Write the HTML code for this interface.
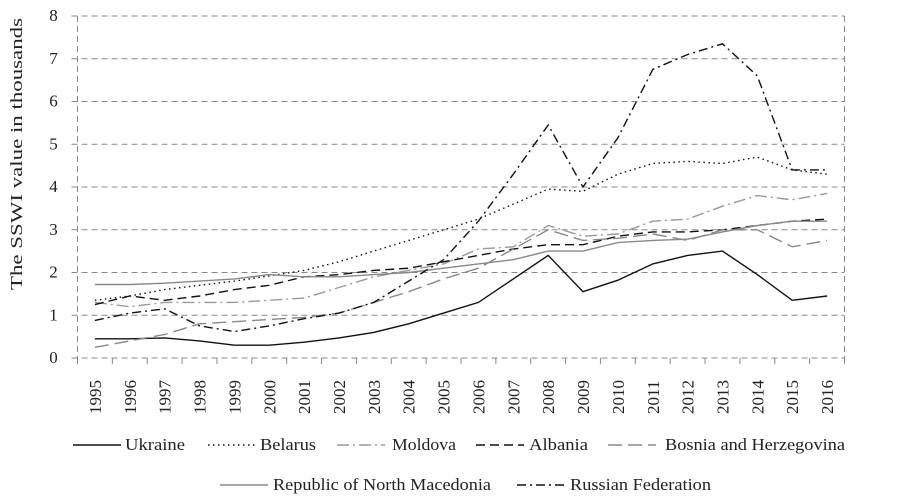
<!DOCTYPE html>
<html><head><meta charset="utf-8"><style>
html,body{margin:0;padding:0;background:#fff;}
svg{display:block;font-family:"Liberation Serif",serif;}
</style></head><body>
<svg id="s" width="900" height="503" xmlns="http://www.w3.org/2000/svg">
<g id="grid" stroke="#888" stroke-width="1" stroke-dasharray="6,4" fill="none"></g>
<g id="lbl" font-size="16" fill="#222"></g>
<text transform="translate(22,154) rotate(-90)" text-anchor="middle" font-size="17" fill="#222" textLength="272" lengthAdjust="spacingAndGlyphs">The SSWI value in thousands</text>
<g id="series" fill="none"></g>
<g id="leg" font-size="17" fill="#222"></g>
</svg>
<script>
const NS="http://www.w3.org/2000/svg";
function el(p,t,a,txt){const e=document.createElementNS(NS,t);for(const k in a)e.setAttribute(k,a[k]);if(txt!=null)e.textContent=txt;p.appendChild(e);return e;}
const L=77.5,R=844.5,T=16,B=358,step=(R-L)/22;
const X=i=>L+step*(i+0.5), Y=v=>B-v*(B-T)/8;
const g=document.getElementById('grid'),lb=document.getElementById('lbl');
for(let v=0;v<=8;v++){el(g,'line',{x1:L-6,x2:R,y1:Y(v),y2:Y(v)});el(lb,'text',{x:L-24,y:Y(v)+5,'text-anchor':'middle','font-size':'17'},v);}
el(g,'line',{x1:L,x2:L,y1:T,y2:B+6});el(g,'line',{x1:R,x2:R,y1:T,y2:B+6});
for(let i=0;i<=22;i++)el(g,'line',{x1:L+step*i,x2:L+step*i,y1:B,y2:B+6});
for(let i=0;i<22;i++)el(lb,'text',{transform:`translate(${X(i)+6},${B+56}) rotate(-90)`,'font-size':'17'},1995+i);
const S=[
["Ukraine","#111","none",1.4,[0.45,0.45,0.47,0.4,0.3,0.3,0.37,0.47,0.6,0.8,1.05,1.3,1.85,2.4,1.55,1.82,2.2,2.4,2.5,1.95,1.35,1.45],[73,445,125,60]],
["Belarus","#111","1.5,3.5",1.4,[1.35,1.45,1.6,1.7,1.8,1.92,2.05,2.25,2.5,2.75,3.0,3.25,3.6,3.95,3.9,4.3,4.55,4.6,4.55,4.7,4.4,4.3],[208,445,260,56]],
["Moldova","#999","12,4,2,4",1.4,[1.3,1.2,1.3,1.3,1.3,1.35,1.4,1.65,1.9,2.05,2.2,2.55,2.6,3.1,2.85,2.9,3.2,3.25,3.55,3.8,3.7,3.85],[337,445,392,64]],
["Albania","#111","9,5",1.4,[1.25,1.45,1.35,1.45,1.6,1.7,1.9,1.95,2.05,2.1,2.25,2.4,2.55,2.65,2.65,2.85,2.95,2.95,3.0,3.1,3.2,3.25],[476,445,529,59]],
["Bosnia and Herzegovina","#888","14,6",1.4,[0.25,0.4,0.55,0.8,0.85,0.9,0.95,1.05,1.3,1.55,1.85,2.1,2.55,3.0,2.75,2.8,2.9,2.75,3.0,3.0,2.6,2.75],[608,445,665,180]],
["Republic of North Macedonia","#888","none",1.4,[1.72,1.72,1.75,1.8,1.85,1.95,1.9,1.9,1.95,2.0,2.1,2.2,2.3,2.5,2.5,2.7,2.75,2.78,2.95,3.1,3.2,3.2],[220,485,273,218]],
["Russian Federation","#111","9,4,2,4",1.4,[0.88,1.05,1.15,0.75,0.62,0.75,0.92,1.05,1.3,1.8,2.3,3.2,4.3,5.45,4.0,5.15,6.75,7.1,7.35,6.6,4.4,4.4],[517,485,570,141]]];
const sg=document.getElementById('series'),lg=document.getElementById('leg');
S.forEach((s)=>{
 const d=s[4].map((v,i)=>(i?'L':'M')+X(i).toFixed(1)+','+Y(v).toFixed(1)).join('');
 const a={d:d,stroke:s[1],'stroke-width':s[3]};if(s[2]!="none")a['stroke-dasharray']=s[2];
 el(sg,'path',a);
 const [px,py,tx,tw]=s[5];const b={x1:px,x2:px+48,y1:py,y2:py,stroke:s[1],'stroke-width':s[3]};if(s[2]!="none")b['stroke-dasharray']=s[2];
 el(lg,'line',b);el(lg,'text',{x:tx,y:py+5,textLength:tw,lengthAdjust:'spacingAndGlyphs'},s[0]);
});
</script>
</body></html>
